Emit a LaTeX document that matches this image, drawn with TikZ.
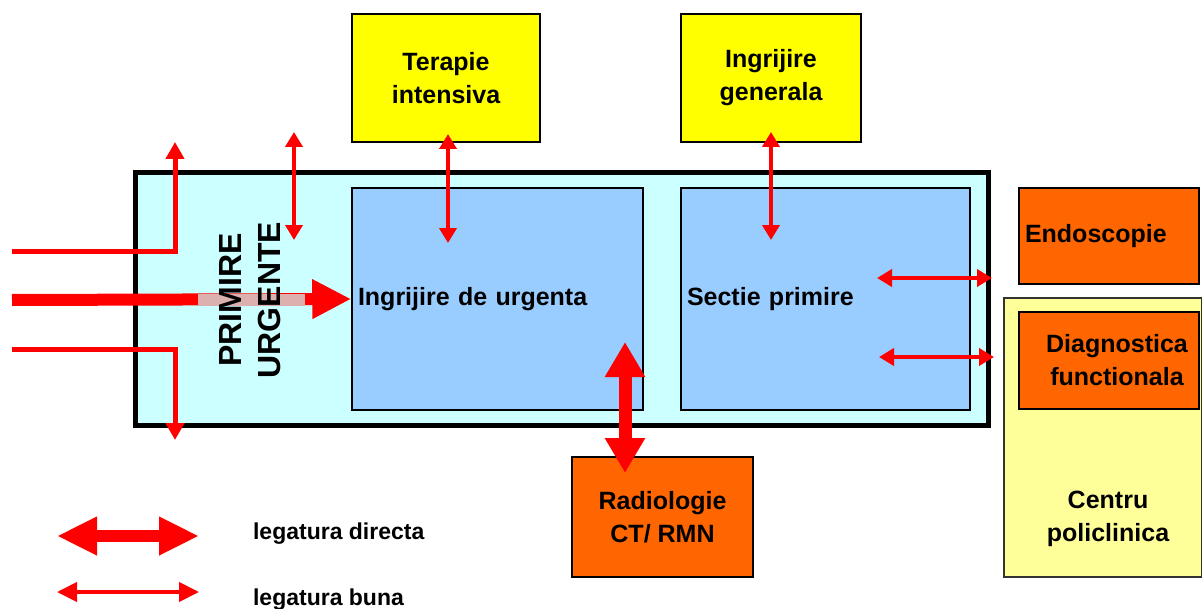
\documentclass[tikz,border=0pt]{standalone}
\usepackage{fontspec}
\setmainfont{Liberation Sans}
\usetikzlibrary{arrows.meta}
\usetikzlibrary{positioning}
\definecolor{zonecyan}{HTML}{CCFFFF}
\definecolor{wardblue}{HTML}{99CCFF}
\definecolor{unityellow}{HTML}{FFFF00}
\definecolor{servorange}{HTML}{FF6600}
\definecolor{clinicyellow}{HTML}{FFFF99}
\definecolor{fadedred}{HTML}{DDB0B0}
\tikzset{every node/.style={align=center, % text is centred unless said otherwise
           font=\fontsize{12.5}{16.5}\selectfont\bfseries},
         zone/.style={draw, line width=2.5pt, fill=zonecyan, inner sep=0pt},
         ward/.style={draw, line width=0.75pt, fill=wardblue,
           inner xsep=3pt, align=left, minimum height=111pt},
         unit/.style={draw, line width=1.25pt, fill=unityellow,
           minimum width=92pt, minimum height=64pt},
         service/.style={draw, line width=1pt, fill=servorange,
           minimum width=90pt, inner xsep=3pt},
         link/.style={draw=red, line width=2pt,
           {Triangle[length=7.5pt,width=8.5pt]}-{Triangle[length=7.5pt,width=8.5pt]}},
         biglink/.style={draw=red, line width=6.5pt,
           {Triangle[length=17.5pt,width=19pt]}-{Triangle[length=17.5pt,width=19pt]}},
         flow/.style={draw=red, line width=2.5pt, -{Triangle[length=8.5pt,width=9pt]}},
         legendtext/.style={anchor=west, font=\fontsize{11.5}{14}\selectfont\bfseries}}

\begin{document}
\begin{tikzpicture}[x=0.5pt, y=-0.5pt]
  \useasboundingbox (0,0) rectangle (1202,609);

  % main block with the two wards
  \node [zone, minimum width=426.5pt, minimum height=126pt] (zone) at (561.5,299) {};
  \node [ward, text width=139.5pt] (urgent) at (497.5,299) {Ingrijire de urgenta};
  \node [ward, text width=138.5pt] (primire) at (825.5,299) {Sectie primire};

  % units above, services around
  \node [unit, minimum width=94pt] (terapie) at (446,78) {Terapie\\intensiva};
  \node [unit, minimum width=90pt] (generala) at (771,78) {Ingrijire\\generala};
  \node [service, text width=84pt, align=left, minimum height=47.5pt] (endo) at (1109,236) {Endoscopie};
  \node [draw=black!80, line width=1pt, fill=clinicyellow,
         minimum width=99pt, minimum height=139.5pt] (clinic) at (1103,437.5) {};
  \node (clinictext) at (1108,519) {Centru\\policlinica};
  \node [service, minimum height=48.5pt] (diag) at (1109,360.5) {\hspace*{8pt}Diagnostica\\\hspace*{8pt}functionala};
  \node [service, minimum width=90.5pt, minimum height=60pt] (radio) at (662.5,517) {Radiologie\\CT/ RMN};

  % free ends of the connectors
  \coordinate (inA) at (12,251);   \coordinate (outA) at (175,142);
  \coordinate (inB) at (12,300);
  \coordinate (inC) at (12,349);   \coordinate (outC) at (175,440);
  \coordinate (fadeA) at (198,300); \coordinate (fadeB) at (305,300);
  \coordinate (upA) at (294,132);  \coordinate (upB) at (294,240);
  \coordinate (terA) at (448,134); \coordinate (terB) at (448,243);
  \coordinate (genA) at (771,132); \coordinate (genB) at (771,240);
  \coordinate (endA) at (877,278); \coordinate (endB) at (992,278);
  \coordinate (diaA) at (879,357); \coordinate (diaB) at (994,357);
  \coordinate (radA) at (625,342); \coordinate (radB) at (625,473);

  % patient flows on the left
  \draw [flow] (inA) -| (outA);
  \draw [flow] (inC) -| (outC);
  \draw [draw=red, line width=6pt, -{Triangle[length=19.5pt,width=18.5pt]}] (inB) -- (urgent.west);
  \draw [draw=fadedred, line width=6pt] (fadeA) -- (fadeB);
  \node [rotate=90, font=\fontsize{16}{19.5}\selectfont\bfseries] (entry) at (250,300) {PRIMIRE\\URGENTE};

  % links between departments
  \draw [link] (upA) -- (upB);
  \draw [link] (terA) -- (terB);
  \draw [link] (genA) -- (genB);
  \draw [link] (endA) -- (endB);
  \draw [link] (diaA) -- (diaB);
  \draw [biglink] (radA) -- (radB);

  % legend
  \coordinate (keyA) at (57,536);  \coordinate (keyB) at (199,536);
  \coordinate (keyC) at (57,592);  \coordinate (keyD) at (199,592);
  \draw [draw=red, line width=6pt,
         {Triangle[length=20pt,width=18pt]}-{Triangle[length=20pt,width=18pt]}] (keyA) -- (keyB);
  \draw [draw=red, line width=2pt,
         {Triangle[length=10pt,width=9.5pt]}-{Triangle[length=10pt,width=9.5pt]}] (keyC) -- (keyD);
  \node [legendtext] (direct) at (246,534) {legatura directa};
  \node [legendtext] (good) at (246,600) {legatura buna};
\end{tikzpicture}
\end{document}
